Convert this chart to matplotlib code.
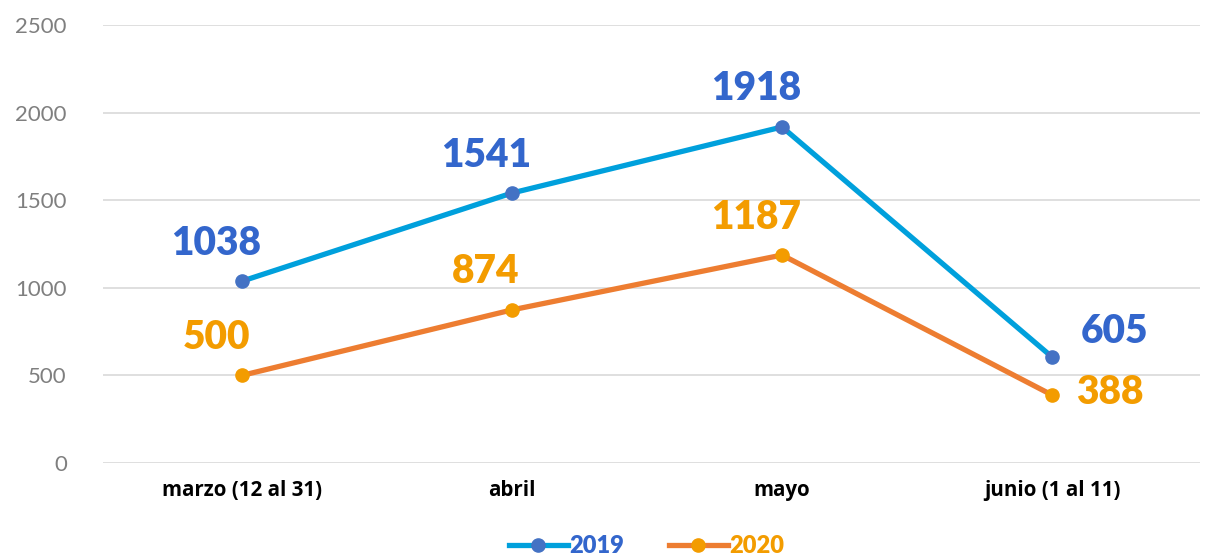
import matplotlib
matplotlib.use("Agg")
import matplotlib.pyplot as plt
from matplotlib.lines import Line2D

categories = ["marzo (12 al 31)", "abril", "mayo", "junio (1 al 11)"]
series_names = ["2019", "2020"]
values_2019 = [1038, 1541, 1918, 605]
values_2020 = [500, 874, 1187, 388]
y_ticks = [0, 500, 1000, 1500, 2000, 2500]

plt.rcParams['font.family'] = ['Lato', 'DejaVu Sans']

fig = plt.figure(figsize=(12.15, 5.59), dpi=100)
ax = fig.add_axes([103/1215, 1-463/559, (1200-103)/1215, (463-25)/559])

x = list(range(len(categories)))
line_c = ["#00a0dc", "#ed7d31"]
mark_c = ["#4472c4", "#f39c00"]
text_c = ["#3366cc", "#f39c00"]

for i, vals in enumerate([values_2019, values_2020]):
    ax.plot(x, vals, color=line_c[i], lw=3.8, zorder=3,
            marker='o', markersize=9.5, markerfacecolor=mark_c[i],
            markeredgecolor=mark_c[i], solid_capstyle='round')
    for j, v in enumerate(vals):
        if j == len(vals) - 1:
            off = (62, 26) if i == 0 else (58, 3)
        else:
            off = (-26, 38)
        ax.annotate(str(v), (x[j], v), xytext=off, textcoords='offset pixels',
                    ha='center', va='center', fontsize=28, fontweight='heavy',
                    color=text_c[i], zorder=4)

ax.set_ylim(0, 2500)
ax.set_xlim(-0.515, 3.548)
ax.set_yticks(y_ticks)
ax.set_xticks(x)
ax.set_xticklabels(categories, fontsize=14.8, fontweight='bold', color='black',
                   family=['Open Sans', 'DejaVu Sans'])
ax.tick_params(axis='y', labelsize=16, colors='#7f7f7f', length=0, pad=26)
ax.tick_params(axis='x', length=0, pad=12)
ax.grid(axis='y', color='#d9d9d9', lw=1.2)
ax.set_axisbelow(True)
for s in ax.spines.values():
    s.set_visible(False)

handles = [Line2D([0], [0], color=line_c[i], lw=3.8, marker='o', markersize=9.5,
                  markerfacecolor=mark_c[i], markeredgecolor=mark_c[i])
           for i in range(2)]
leg = fig.legend(handles, series_names, loc='center', bbox_to_anchor=(0.532, 1-546/559),
                 ncol=2, frameon=False, handlelength=2.5, handletextpad=0.05,
                 columnspacing=1.9, prop={'size': 17, 'weight': 'heavy'})
for t, c in zip(leg.get_texts(), text_c):
    t.set_color(c)

fig.savefig("out.png", dpi=100)
